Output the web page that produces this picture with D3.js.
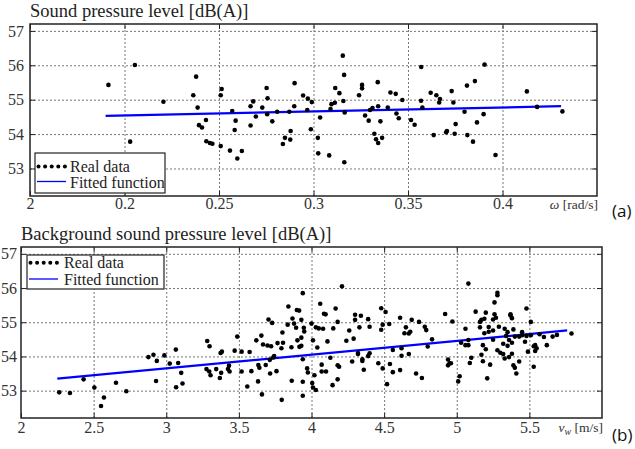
<!DOCTYPE html>
<html>
<head>
<meta charset="utf-8">
<script src="https://cdn.jsdelivr.net/npm/d3@7"></script>
<style>
  body { margin: 0; background: #fff; }
  svg { display: block; }
  .tick text { font-family: "Liberation Serif", "Times New Roman", serif; }
</style>
</head>
<body>
<div class="chart"></div>
<script>
// (a) sound pressure level vs angular speed
const topX = [0.1915,0.2055,0.203,0.2206,0.2379,0.2364,0.2387,0.2394,0.241,0.2431,0.2433,0.2452,0.2465,0.2509,0.2514,0.2509,
  0.2558,0.257,0.2588,0.2583,0.2597,0.2621,0.2667,0.2681,0.2667,0.2695,0.2729,0.2752,0.2757,0.2755,0.2782,0.2808,0.2838,
  0.2849,0.2877,0.2879,0.2872,0.2898,0.29,0.2945,0.297,0.2991,0.2967,0.2986,0.3023,0.3025,0.3035,0.3083,0.309,0.3095,
  0.3113,0.3115,0.3137,0.3155,0.3162,0.3158,0.3165,0.3163,
  0.3241,0.3257,0.3257,0.3273,0.3292,0.3299,0.3312,0.3322,0.3331,0.3342,0.3342,0.334,0.3354,0.3363,0.3393,0.3407,0.3435,
  0.3439,0.3451,0.347,0.3516,0.3535,0.357,0.3569,0.3576,0.362,0.3636,0.365,0.3669,0.3665,0.3702,0.3706,0.3731,0.374,
  0.3747,0.3752,0.3799,0.3812,0.3814,0.3844,0.3854,0.3865,0.39,0.3905,0.3963,0.4129,0.4183,0.4317];
const topY = [55.43,56.01,53.78,54.94,55.67,55.13,54.77,54.26,54.19,54.41,53.79,53.74,53.72,53.65,55.31,55.13,
  53.52,54.67,54.39,54.12,53.29,53.51,54.81,54.95,54.25,54.51,54.77,55.34,55.04,54.58,54.37,54.65,53.71,
  53.89,53.84,54.09,54.65,54.81,55.48,55.12,55.03,54.93,54.70,54.14,53.89,53.44,54.48,53.38,54.73,54.87,
  54.91,55.34,55.19,56.28,55.72,54.96,54.63,53.18,
  55.13,55.43,55.33,54.54,54.39,54.70,54.76,54.01,53.85,53.74,54.81,55.51,54.37,53.89,54.77,55.21,55.17,
  54.60,54.46,54.99,54.41,54.27,55.95,54.97,54.77,55.20,53.97,55.13,55.02,54.92,54.05,54.09,55.25,54.92,
  54.01,54.29,54.65,55.41,53.97,53.78,55.54,54.34,54.58,56.02,53.39,55.24,54.79,54.66];
const topFitX = [0.19, 0.431];
const topFitY = [54.53, 54.81];
const topXTicks = [0.15, 0.2, 0.25, 0.3, 0.35, 0.4];
const topXTickLabels = ['2', '0.2', '0.25', '0.3', '0.35', '0.4'];

// (b) background sound pressure level vs wind speed
const botX = [2.263,2.337,2.431,2.505,2.551,2.571,2.654,2.725,2.877,2.912,2.935,2.93,2.987,3.024,3.066,3.082,3.068,3.103,
  3.112,3.282,3.298,3.277,3.296,3.305,3.344,3.369,3.378,3.374,3.383,3.432,3.436,3.425,3.471,3.489,3.519,3.519,3.558,
  3.574,3.586,3.62,3.634,3.632,3.641,3.655,3.666,3.659,3.685,3.697,3.704,3.713,3.715,3.729,3.722,3.736,3.743,3.759,
  3.766,3.793,3.8,3.795,3.804,3.841,3.836,3.864,3.862,3.869,3.88,3.894,3.899,3.915,3.903,3.917,
  3.94,3.93,3.947,3.95,3.93,3.93,3.94,3.97,3.975,3.94,3.94,4.0,4.01,4.005,4.01,4.03,4.02,4.04,4.03,4.05,4.06,4.08,
  4.086,4.097,4.11,4.07,4.07,4.10,4.13,4.145,4.15,4.166,4.18,4.18,4.19,4.18,4.21,4.24,4.26,4.28,4.29,4.30,4.30,4.33,
  4.34,4.32,4.32,4.35,4.35,4.36,4.39,4.40,4.39,4.40,4.46,4.48,4.48,4.49,4.51,4.49,4.52,4.535,4.54,4.56,4.56,4.61,
  4.61,4.62,4.62,4.64,4.65,4.67,4.67,4.68,4.69,4.72,4.74,4.76,4.78,4.79,4.80,4.83,4.92,4.94,4.94,4.95,4.96,4.97,
  5.01,5.02,5.03,5.06,5.06,5.08,5.08,5.08,5.09,5.10,5.13,5.16,5.16,5.17,5.17,5.18,5.18,5.19,5.19,5.20,5.20,5.21,
  5.22,5.22,5.23,5.25,5.25,5.25,5.26,5.26,5.27,5.28,5.28,5.29,5.28,5.30,5.32,5.32,5.33,5.33,5.34,5.35,5.35,5.36,
  5.36,5.37,5.37,5.38,5.38,5.38,5.39,5.39,5.40,5.40,5.41,5.43,5.43,5.45,5.45,5.47,5.48,5.48,5.49,5.51,5.51,5.53,
  5.53,5.54,5.54,5.55,5.57,5.60,5.62,5.66,5.69,5.79];
const botY = [52.95,52.93,53.33,53.09,52.55,52.80,53.23,52.98,53.98,54.05,53.87,53.28,54.03,53.79,54.20,53.81,53.10,53.52,
  53.21,54.45,54.30,53.63,53.56,53.45,53.63,53.37,53.52,54.10,54.14,53.73,53.56,53.63,54.17,54.58,54.14,53.56,53.12,
  54.13,53.57,54.47,53.75,53.27,53.67,54.61,54.35,52.89,53.75,54.32,55.08,53.90,53.50,54.98,54.30,53.97,54.01,53.57,
  54.39,54.24,54.70,52.73,54.40,55.46,54.93,53.29,54.27,55.11,54.96,54.84,55.36,55.34,54.47,54.28,
  55.85,55.07,54.84,54.73,54.55,54.31,53.92,53.65,53.53,53.26,52.85,54.96,54.47,53.22,53.09,53.02,53.45,54.26,54.85,54.82,55.54,54.81,
  55.25,55.23,54.44,53.76,53.56,53.56,53.96,53.16,54.82,55.40,55.01,53.74,53.70,53.33,56.05,54.46,54.76,53.85,54.52,55.22,55.07,54.85,
  55.19,54.10,54.07,53.92,53.87,53.61,55.09,54.87,54.01,54.09,53.80,55.41,54.78,54.93,55.30,53.65,53.19,54.95,53.78,54.19,53.54,55.13,
  53.60,54.24,54.02,54.68,54.85,54.67,54.07,54.72,55.07,53.50,55.01,53.37,54.87,54.77,54.29,54.50,55.24,53.91,53.74,53.80,53.80,55.02,
  53.27,53.42,54.40,54.81,54.33,54.33,54.48,56.13,53.81,53.96,55.31,54.85,55.01,54.05,55.07,54.33,53.86,54.68,55.10,55.28,54.21,53.36,
  54.86,54.72,53.76,55.08,54.49,54.76,55.58,55.23,55.13,55.79,55.86,54.87,54.18,54.11,54.37,54.07,53.94,54.81,54.60,54.31,54.71,54.48,
  53.98,55.20,55.23,54.40,54.08,55.12,54.79,53.74,54.58,53.67,53.50,53.85,54.58,54.62,54.71,54.43,55.40,54.60,54.14,54.62,55.01,54.30,
  53.70,54.33,54.16,54.24,54.65,54.57,54.33,54.58,54.63,54.67];
const botFitX = [2.25, 5.76];
const botFitY = [53.35, 54.76];
const botXTicks = [2, 2.5, 3, 3.5, 4, 4.5, 5, 5.5];
const botXTickLabels = ['2', '2.5', '3', '3.5', '4', '4.5', '5', '5.5'];

const yTicks = [53, 54, 55, 56, 57];

const width = 635, height = 449;
const serif = '"Liberation Serif", "Times New Roman", serif';

const svg = d3.select('.chart').append('svg')
  .attr('width', width)
  .attr('height', height);

function panel(o) {
  const x = d3.scaleLinear().domain(o.xDomain).range([o.left, o.right]);
  const y = d3.scaleLinear().domain([52.2, 57.2]).range([o.bottom, o.top]);
  const g = svg.append('g');
  const h = o.bottom - o.top, w = o.right - o.left;

  // dotted grid
  g.append('g')
    .attr('transform', `translate(0,${o.bottom})`)
    .call(d3.axisBottom(x).tickValues(o.xGrid).tickSize(-h).tickFormat(''))
    .call(s => s.select('.domain').remove())
    .selectAll('line').attr('stroke', '#777').attr('stroke-dasharray', '2,2');
  g.append('g')
    .attr('transform', `translate(${o.left},0)`)
    .call(d3.axisLeft(y).tickValues(yTicks).tickSize(-w).tickFormat(''))
    .call(s => s.select('.domain').remove())
    .selectAll('line').attr('stroke', '#777').attr('stroke-dasharray', '2,2');

  // fitted function
  g.append('path')
    .datum(d3.zip(o.fitX, o.fitY))
    .attr('fill', 'none')
    .attr('stroke', '#0000ff')
    .attr('stroke-width', 2.2)
    .attr('d', d3.line().x(d => x(d[0])).y(d => y(d[1])));

  // real data
  g.append('g').selectAll('circle')
    .data(d3.zip(o.xs, o.ys))
    .join('circle')
    .attr('cx', d => x(d[0]))
    .attr('cy', d => y(d[1]))
    .attr('r', 2.3)
    .attr('fill', '#000');

  // frame
  g.append('rect')
    .attr('x', o.left).attr('y', o.top)
    .attr('width', w).attr('height', h)
    .attr('fill', 'none').attr('stroke', '#222').attr('stroke-width', 1.5);

  // inward ticks + labels
  const labelMap = new Map(o.xTicks.map((t, i) => [t, o.xTickLabels[i]]));
  const xa = g.append('g')
    .attr('transform', `translate(0,${o.bottom})`)
    .call(d3.axisBottom(x).tickValues(o.xTicks).tickSize(-5).tickPadding(o.xPad)
      .tickFormat(d => labelMap.get(d)));
  const ya = g.append('g')
    .attr('transform', `translate(${o.left},0)`)
    .call(d3.axisLeft(y).tickValues(yTicks).tickSize(-5).tickPadding(o.yPad)
      .tickFormat(d3.format('d')));
  const yr = g.append('g')
    .attr('transform', `translate(${o.right},0)`)
    .call(d3.axisRight(y).tickValues(yTicks).tickSize(-5).tickFormat(''));
  const xt = g.append('g')
    .attr('transform', `translate(0,${o.top})`)
    .call(d3.axisTop(x).tickValues(o.xTicks).tickSize(-5).tickFormat(''));
  [xa, ya, yr, xt].forEach(a => {
    a.attr('font-family', serif).attr('font-size', 16);
    a.select('.domain').remove();
    a.selectAll('line').attr('stroke', '#222');
    a.selectAll('text').attr('fill', '#333');
  });

  // title
  svg.append('text')
    .attr('x', o.left).attr('y', o.top - 7)
    .attr('font-family', serif).attr('font-size', 18.5).attr('fill', '#222')
    .text(o.title);

  // axis label
  const lab = svg.append('text')
    .attr('x', o.right + 1).attr('y', o.bottom + o.labelDy)
    .attr('text-anchor', 'end')
    .attr('font-family', serif).attr('font-size', 13.5).attr('fill', '#333');
  o.axisLabel(lab);

  // panel letter
  svg.append('text')
    .attr('x', 612).attr('y', o.bottom + o.letterDy)
    .attr('font-family', '"Open Sans", sans-serif').attr('font-size', 17).attr('fill', '#111')
    .text(o.letter);

  // legend
  const L = o.legend;
  const lg = svg.append('g').attr('transform', `translate(${L.x},${L.y})`);
  lg.append('rect').attr('width', L.w).attr('height', L.h)
    .attr('fill', '#fff').attr('stroke', '#222').attr('stroke-width', 1.2);
  lg.selectAll('circle').data(d3.range(5)).join('circle')
    .attr('cx', i => 3.5 + i * 6.6).attr('cy', L.row1).attr('r', 2).attr('fill', '#000');
  lg.append('line').attr('x1', 2).attr('x2', 31).attr('y1', L.row2).attr('y2', L.row2)
    .attr('stroke', '#0000ff').attr('stroke-width', 1.3);
  lg.append('text').attr('x', L.tx).attr('y', L.row1 + 5.5)
    .attr('font-family', serif).attr('font-size', 16).attr('fill', '#222').text('Real data');
  lg.append('text').attr('x', L.tx).attr('y', L.row2 + 6)
    .attr('font-family', serif).attr('font-size', 16).attr('fill', '#222').text('Fitted function');
}

panel({
  left: 30, right: 597, top: 24, bottom: 196,
  xDomain: [0.15, 0.45], xGrid: [0.2, 0.25, 0.3, 0.35, 0.4],
  xTicks: topXTicks, xTickLabels: topXTickLabels,
  xs: topX, ys: topY, fitX: topFitX, fitY: topFitY,
  xPad: 2, yPad: 6,
  title: 'Sound pressure level [dB(A)]',
  labelDy: 13, letterDy: 21, letter: '(a)',
  axisLabel: t => {
    t.append('tspan').attr('font-style', 'italic').text('ω');
    t.append('tspan').text(' [rad/s]');
  },
  legend: {x: 35, y: 153, w: 130, h: 40, row1: 13.5, row2: 28.5, tx: 35}
});

panel({
  left: 21, right: 602, top: 247, bottom: 418,
  xDomain: [2, 6], xGrid: [2.5, 3, 3.5, 4, 4.5, 5, 5.5],
  xTicks: botXTicks, xTickLabels: botXTickLabels,
  xs: botX, ys: botY, fitX: botFitX, fitY: botFitY,
  xPad: 4, yPad: 4,
  title: 'Background sound pressure level [dB(A)]',
  labelDy: 14, letterDy: 23, letter: '(b)',
  axisLabel: t => {
    t.append('tspan').attr('font-style', 'italic').text('v');
    t.append('tspan').attr('font-style', 'italic').attr('font-size', 10).attr('dy', 3).text('w');
    t.append('tspan').attr('dy', -3).text(' [m/s]');
  },
  legend: {x: 27, y: 255, w: 137, h: 34, row1: 7.7, row2: 24, tx: 37}
});
</script>
</body>
</html>
